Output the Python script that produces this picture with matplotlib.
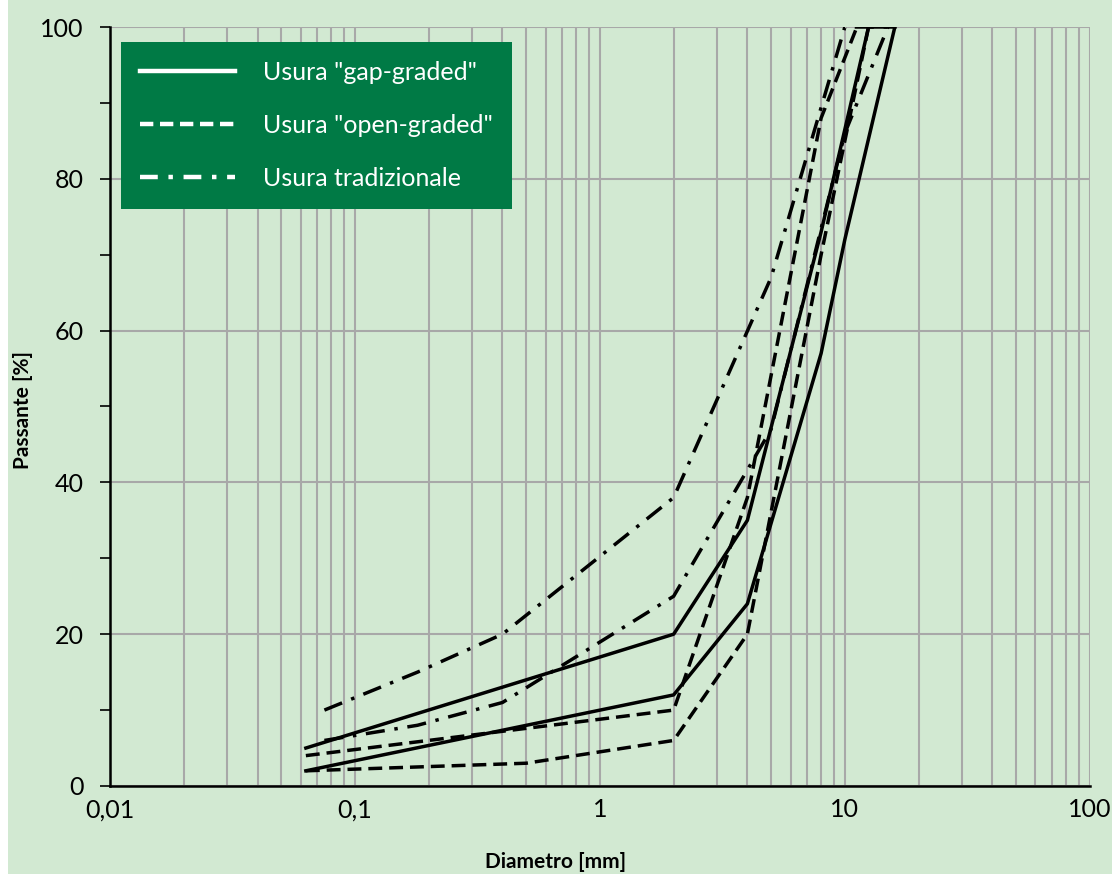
import matplotlib.pyplot as plt
from matplotlib.lines import Line2D
from matplotlib.ticker import FixedLocator, LogLocator, NullFormatter, FuncFormatter

# Curve granulometriche (diametro in mm, passante in %)
d_gap_sup = [0.063, 2, 4, 8, 12.5, 16]
p_gap_sup = [5, 20, 35, 73, 100, 100]
d_gap_inf = [0.063, 2, 4, 8, 10, 16]
p_gap_inf = [2, 12, 24, 57, 72, 100]

d_open_sup = [0.063, 2, 4, 8, 11.2]
p_open_sup = [4, 10, 38, 88, 100]
d_open_inf = [0.063, 0.5, 2, 4, 8, 12.5]
p_open_inf = [2, 3, 6, 20, 70, 100]

d_trad_sup = [0.075, 0.18, 0.4, 2, 5, 10, 15]
p_trad_sup = [10, 15, 20, 38, 67, 100, 100]
d_trad_inf = [0.075, 0.18, 0.4, 2, 5, 10, 15]
p_trad_inf = [6, 8, 11, 25, 47, 86, 100]

etichette = ['Usura "gap-graded"', 'Usura "open-graded"', 'Usura tradizionale']

VERDE_CHIARO = '#d2e9d2'
VERDE_SCURO = '#007a45'
GRIGIO = '#a8a8a8'
FONT = 'Lato'

fig = plt.figure(figsize=(11.12, 8.74), dpi=100, facecolor=VERDE_CHIARO)
ax = fig.add_axes([0.099, 0.1007, 0.881, 0.8684])
ax.set_facecolor(VERDE_CHIARO)

stile_gap = dict(color='black', lw=2.5, linestyle='-')
stile_open = dict(color='black', lw=2.5, linestyle=(0, (4, 2)))
stile_trad = dict(color='black', lw=2.5, linestyle=(0, (5.5, 2.8, 1, 2.8)))

ax.plot(d_gap_sup, p_gap_sup, **stile_gap)
ax.plot(d_gap_inf, p_gap_inf, **stile_gap)
ax.plot(d_open_sup, p_open_sup, **stile_open)
ax.plot(d_open_inf, p_open_inf, **stile_open)
ax.plot(d_trad_sup, p_trad_sup, **stile_trad)
ax.plot(d_trad_inf, p_trad_inf, **stile_trad)

ax.set_xscale('log')
ax.set_xlim(0.01, 100)
ax.set_ylim(0, 100)

ax.xaxis.set_major_locator(FixedLocator([0.01, 0.1, 1, 10, 100]))
ax.xaxis.set_minor_locator(LogLocator(base=10, subs=range(2, 10)))
ax.xaxis.set_minor_formatter(NullFormatter())
ax.xaxis.set_major_formatter(FuncFormatter(lambda v, _: f'{v:g}'.replace('.', ',')))
ax.set_yticks(range(0, 101, 20))
ax.set_yticks(range(10, 100, 20), minor=True)

ax.grid(True, which='both', axis='x', color=GRIGIO, lw=1.5)
ax.grid(True, which='major', axis='y', color=GRIGIO, lw=1.5)
ax.set_axisbelow(True)

ax.tick_params(axis='x', which='both', length=0, pad=9, labelsize=18)
ax.tick_params(axis='y', which='both', length=7, width=1.2, direction='out', pad=12, labelsize=18)
for lab in ax.get_xticklabels() + ax.get_yticklabels():
    lab.set_family(FONT)

for lato in ['top', 'right']:
    ax.spines[lato].set_visible(False)
for lato in ['left', 'bottom']:
    ax.spines[lato].set_linewidth(1.8)
    ax.spines[lato].set_zorder(5)

ax.set_xlabel('Diametro [mm]', fontsize=15, fontweight='bold', family=FONT)
ax.set_ylabel('Passante [%]', fontsize=15, fontweight='bold', family=FONT)
ax.xaxis.set_label_coords(0.455, -0.087)
ax.yaxis.set_label_coords(-0.079, 0.495)

maniglie = [
    Line2D([], [], color='white', lw=3.2, linestyle='-'),
    Line2D([], [], color='white', lw=3.2, linestyle=(0, (3, 1.5))),
    Line2D([], [], color='white', lw=3.2, linestyle=(0, (4, 2.4, 1, 2.4))),
]
leg = ax.legend(maniglie, etichette, loc='upper left', bbox_to_anchor=(0.011, 0.98),
                borderaxespad=0, frameon=True, fancybox=False, framealpha=1,
                facecolor=VERDE_SCURO, edgecolor=VERDE_SCURO,
                prop={'family': FONT, 'size': 18}, labelcolor='white',
                handlelength=3.8, handletextpad=1.15, labelspacing=1.2,
                borderpad=0.75)
leg.get_frame().set_linewidth(0)
leg.set_zorder(10)

# sottile bordo bianco a sinistra
fig.patches.append(plt.Rectangle((0, 0), 0.007, 1, transform=fig.transFigure,
                                 facecolor='white', edgecolor='none'))

fig.savefig('out.png', dpi=100, facecolor=fig.get_facecolor())
